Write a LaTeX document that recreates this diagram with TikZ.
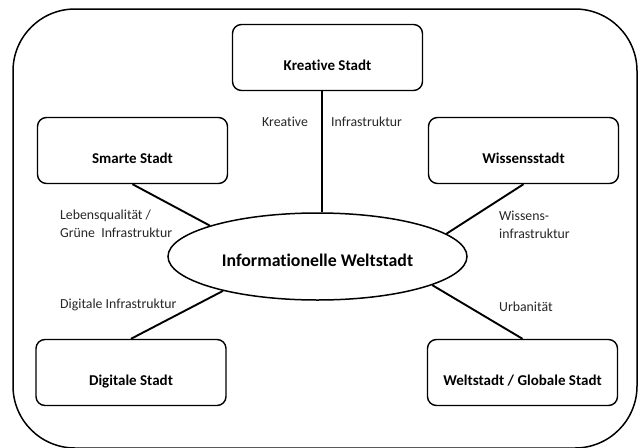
\documentclass[tikz,border=0pt]{standalone}
\usepackage{fontspec}
\setmainfont[Ligatures=NoCommon]{Carlito}
\usetikzlibrary{shapes.geometric}
\begin{document}
\begin{tikzpicture}[x=1pt,y=-1pt,
    city/.style={draw,line width=1.4pt,rounded corners=9pt,minimum width=190pt,minimum height=66pt,
      text height=27pt,text depth=1pt,font=\bfseries\fontsize{15}{17}\selectfont},
    link/.style={line width=1.9pt},
    note/.style={anchor=west,inner sep=0pt,align=left,text=black!85,font=\fontsize{13.8}{18}\selectfont}]
    \useasboundingbox (0,0) rectangle (639,447);
    \begin{scope}
      \clip (0,0) rectangle (639,447);
      \draw[line width=1.5pt,rounded corners=62pt] (13,9) rectangle (637,448);
    \end{scope}
    \node[city] (kreativ) at (327.5,57.5) {Kreative Stadt};
    \node[city] (smart) at (132.5,150.5) {Smarte Stadt};
    \node[city] (wissen) at (523.5,150.5) {Wissensstadt};
    \node[city] (digital) at (131,372.5) {Digitale Stadt};
    \node[city] (global) at (522.5,372.5) {Weltstadt / Globale Stadt};
    \node[draw,ellipse,line width=1.5pt,minimum width=299pt,minimum height=87pt,inner sep=0pt,
      text height=21pt,text depth=1pt,font=\bfseries\fontsize{17.8}{20}\selectfont] (info) at (317.5,256.5) {Informationelle Weltstadt};
    \node[note] (kreativL) at (262,122) {Kreative};
    \node[note] (infraL) at (331,122) {Infrastruktur};
    \node[note] (lebenL) at (60,224) {Lebensqualität /\\Grüne\ \ Infrastruktur};
    \node[note] (wissenL) at (499,225) {Wissens-\\infrastruktur};
    \node[note] (digitalL) at (60,305) {Digitale Infrastruktur};
    \node[note] (urbanL) at (499,307) {Urbanität};
    \draw[link] (kreativ.260) -- (kreativ.260 |- info.north);
    \foreach \from/\ang in {smart.south/164,wissen.south/10,digital.north/200,global.north/346}
      \draw[link] (\from) -- (info.\ang);
\end{tikzpicture}
\end{document}
